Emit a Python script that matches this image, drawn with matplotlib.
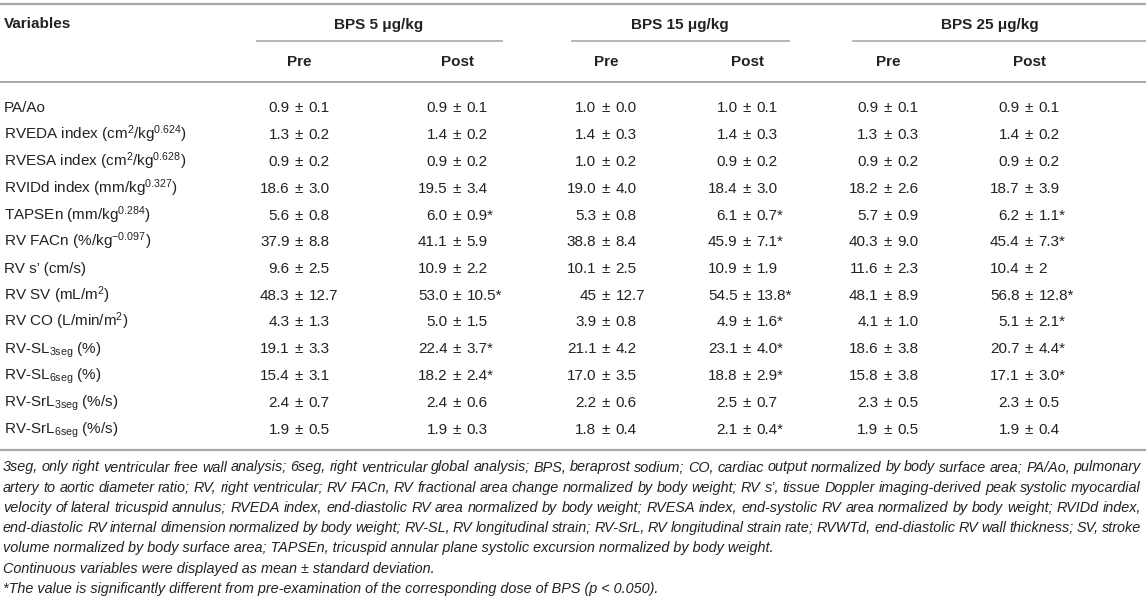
import matplotlib
matplotlib.use("Agg")
import matplotlib.pyplot as plt

plt.rcParams['font.family'] = ['Liberation Sans', 'DejaVu Sans']
plt.rcParams['mathtext.fontset'] = 'custom'
plt.rcParams['mathtext.rm'] = 'Liberation Sans'
plt.rcParams['mathtext.it'] = 'Liberation Sans:italic'
plt.rcParams['mathtext.bf'] = 'Liberation Sans:bold'

# table content
variables = [
    "PA/Ao",
    "RVEDA index (cm$^{2}$/kg$^{0.624}$)",
    "RVESA index (cm$^{2}$/kg$^{0.628}$)",
    "RVIDd index (mm/kg$^{0.327}$)",
    "TAPSEn (mm/kg$^{0.284}$)",
    "RV FACn (%/kg$^{-0.097}$)",
    "RV s\u2019 (cm/s)",
    "RV SV (mL/m$^{2}$)",
    "RV CO (L/min/m$^{2}$)",
    "RV-SL$_{\\mathrm{3seg}}$ (%)",
    "RV-SL$_{\\mathrm{6seg}}$ (%)",
    "RV-SrL$_{\\mathrm{3seg}}$ (%/s)",
    "RV-SrL$_{\\mathrm{6seg}}$ (%/s)",
]
groups = ["BPS 5 \u03bcg/kg", "BPS 15 \u03bcg/kg", "BPS 25 \u03bcg/kg"]
subcols = ["Pre", "Post", "Pre", "Post", "Pre", "Post"]

pre5 = ["0.9 ± 0.1", "1.3 ± 0.2", "0.9 ± 0.2", "18.6 ± 3.0", "5.6 ± 0.8", "37.9 ± 8.8", "9.6 ± 2.5",
        "48.3 ± 12.7", "4.3 ± 1.3", "19.1 ± 3.3", "15.4 ± 3.1", "2.4 ± 0.7", "1.9 ± 0.5"]
post5 = ["0.9 ± 0.1", "1.4 ± 0.2", "0.9 ± 0.2", "19.5 ± 3.4", "6.0 ± 0.9*", "41.1 ± 5.9", "10.9 ± 2.2",
         "53.0 ± 10.5*", "5.0 ± 1.5", "22.4 ± 3.7*", "18.2 ± 2.4*", "2.4 ± 0.6", "1.9 ± 0.3"]
pre15 = ["1.0 ± 0.0", "1.4 ± 0.3", "1.0 ± 0.2", "19.0 ± 4.0", "5.3 ± 0.8", "38.8 ± 8.4", "10.1 ± 2.5",
         "45 ± 12.7", "3.9 ± 0.8", "21.1 ± 4.2", "17.0 ± 3.5", "2.2 ± 0.6", "1.8 ± 0.4"]
post15 = ["1.0 ± 0.1", "1.4 ± 0.3", "0.9 ± 0.2", "18.4 ± 3.0", "6.1 ± 0.7*", "45.9 ± 7.1*", "10.9 ± 1.9",
          "54.5 ± 13.8*", "4.9 ± 1.6*", "23.1 ± 4.0*", "18.8 ± 2.9*", "2.5 ± 0.7", "2.1 ± 0.4*"]
pre25 = ["0.9 ± 0.1", "1.3 ± 0.3", "0.9 ± 0.2", "18.2 ± 2.6", "5.7 ± 0.9", "40.3 ± 9.0", "11.6 ± 2.3",
         "48.1 ± 8.9", "4.1 ± 1.0", "18.6 ± 3.8", "15.8 ± 3.8", "2.3 ± 0.5", "1.9 ± 0.5"]
post25 = ["0.9 ± 0.1", "1.4 ± 0.2", "0.9 ± 0.2", "18.7 ± 3.9", "6.2 ± 1.1*", "45.4 ± 7.3*", "10.4 ± 2",
          "56.8 ± 12.8*", "5.1 ± 2.1*", "20.7 ± 4.4*", "17.1 ± 3.0*", "2.3 ± 0.5", "1.9 ± 0.4"]
columns = [pre5, post5, pre15, post15, pre25, post25]

footnotes = [
    "3seg, only right ventricular free wall analysis; 6seg, right ventricular global analysis; BPS, beraprost sodium; CO, cardiac output normalized by body surface area; PA/Ao, pulmonary",
    "artery to aortic diameter ratio; RV, right ventricular; RV FACn, RV fractional area change normalized by body weight; RV s\u2019, tissue Doppler imaging-derived peak systolic myocardial",
    "velocity of lateral tricuspid annulus; RVEDA index, end-diastolic RV area normalized by body weight; RVESA index, end-systolic RV area normalized by body weight; RVIDd index,",
    "end-diastolic RV internal dimension normalized by body weight; RV-SL, RV longitudinal strain; RV-SrL, RV longitudinal strain rate; RVWTd, end-diastolic RV wall thickness; SV, stroke",
    "volume normalized by body surface area; TAPSEn, tricuspid annular plane systolic excursion normalized by body weight.",
    "Continuous variables were displayed as mean ± standard deviation.",
    "*The value is significantly different from pre-examination of the corresponding dose of BPS (p < 0.050).",
]
justified = [True, True, True, True, False, False, False]

# layout (pixels)
W, H = 1146, 600
col_x = [299, 457, 606, 747, 888, 1029]
group_x = [379, 680, 990]
group_lines = [(257, 502), (572, 789), (853, 1146)]
row_y0, row_dy = 107, 26.75
txt = '#222222'
rule = '#a8a8a8'
fs = 11
fs_note = 10.4
pm_gap = 9.5

fig = plt.figure(figsize=(W / 100, H / 100), dpi=100)
ax = fig.add_axes([0, 0, 1, 1])
ax.set_xlim(0, W)
ax.set_ylim(H, 0)
ax.axis('off')

# rules
ax.plot([0, W], [4, 4], color=rule, lw=1.6)
for a, b in group_lines:
    ax.plot([a, b], [41, 41], color=rule, lw=1.2)
ax.plot([0, W], [82, 82], color=rule, lw=1.4)
ax.plot([0, W], [450, 450], color=rule, lw=1.6)

# header
ax.text(4, 28.5, "Variables", fontsize=fs, fontweight='bold', color=txt, va='baseline')
for gx, g in zip(group_x, groups):
    ax.text(gx, 28.5, g, fontsize=fs, fontweight='bold', color=txt, ha='center', va='baseline')
for cx, s in zip(col_x, subcols):
    ax.text(cx, 65.5, s, fontsize=fs, fontweight='bold', color=txt, ha='center', va='baseline')

# body, values lined up on the ± sign
for i, v in enumerate(variables):
    yb = row_y0 + i * row_dy + 5.5
    ax.text(4, yb, v, fontsize=fs, color=txt, va='baseline')
    for cx, col in zip(col_x, columns):
        m, s = col[i].split(" ± ")
        ax.text(cx - pm_gap, yb, m, fontsize=fs, color=txt, ha='right', va='baseline')
        ax.text(cx, yb, "±", fontsize=fs, color=txt, ha='center', va='baseline')
        ax.text(cx + pm_gap, yb, s, fontsize=fs, color=txt, ha='left', va='baseline')

# footnotes, first four lines justified
renderer = fig.canvas.get_renderer()
for i, (line, just) in enumerate(zip(footnotes, justified)):
    yb = 467 + i * 20.2 + 4.5
    if not just:
        ax.text(3, yb, line, fontsize=fs_note, style='italic', color=txt, va='baseline')
        continue
    words = line.split(' ')
    objs = [ax.text(0, yb, w, fontsize=fs_note, style='italic', color=txt, va='baseline') for w in words]
    widths = [o.get_window_extent(renderer).width for o in objs]
    gap = (1141 - 3 - sum(widths)) / (len(words) - 1)
    x = 3
    for o, w in zip(objs, widths):
        o.set_x(x)
        x += w + gap

fig.savefig("out.png", dpi=100, facecolor='white')
